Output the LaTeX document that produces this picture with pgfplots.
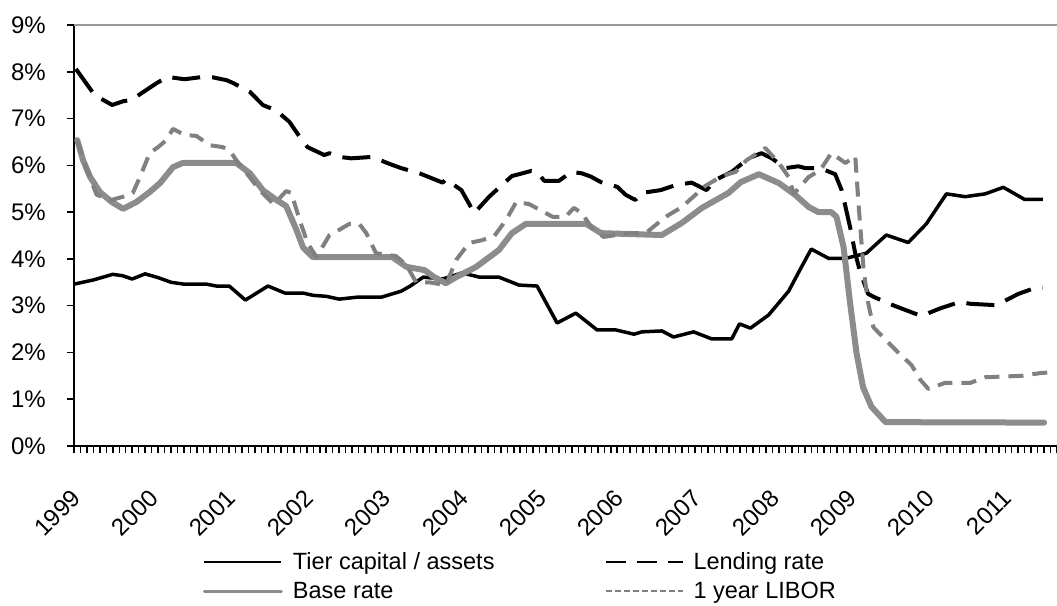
\documentclass[border=0pt]{standalone}
\usepackage{pgfplots}
\pgfplotsset{compat=1.18}
\usepackage{fontspec}
\setmainfont{Liberation Sans}
\definecolor{lgray}{RGB}{128,128,128}
\definecolor{bgray}{RGB}{140,140,140}
\begin{document}
\begin{tikzpicture}
\path[use as bounding box] (-74pt,-159pt) rectangle (983pt,446pt);
\begin{axis}[
  scale only axis, width=983pt, height=421pt,
  xmin=0, xmax=152, ymin=0, ymax=9,
  axis lines*=left,
  axis line style={line width=2.5pt, black},
  tick align=outside,
  major tick length=7pt, minor tick length=7pt,
  every tick/.style={black, line width=1.5pt},
  xtick={0,12,...,144},
  xticklabels={1999,2000,2001,2002,2003,2004,2005,2006,2007,2008,2009,2010,2011},
  minor xtick={0,...,152},
  ytick={0,...,9},
  yticklabels={0\%,1\%,2\%,3\%,4\%,5\%,6\%,7\%,8\%,9\%},
  tick label style={font=\fontsize{24}{28}\selectfont},
  xticklabel style={xshift=3pt, yshift=-40pt, rotate=45, anchor=east, inner sep=1pt},
  yticklabel style={inner sep=2pt, xshift=-19pt},
  clip=false,
  legend columns=2,
  legend cell align=left,
  legend style={draw=none, fill=none, at={(0.131,-0.253)}, anchor=north west,
    font=\fontsize{23.5}{28}\selectfont, inner sep=0pt,
    nodes={inner sep=0pt},
    /tikz/every odd column/.append style={column sep=10pt},
    /tikz/every even column/.append style={column sep=110pt},
    row sep=11pt},
]
\addplot[lgray!80, line width=2pt, forget plot] coordinates {(0,9)(152,9)};

\addplot[black, line width=3.5pt, line join=round,
  legend image code/.code={\draw[black, line width=2pt] (0pt,0pt) -- (77pt,0pt);}]
coordinates {(0,3.46)(3,3.55)(6,3.67)(7.5,3.64)(9,3.57)(11,3.68)(13,3.60)(15,3.50)(17,3.46)(20.5,3.46)(22,3.42)(24,3.42)(26.5,3.12)(30,3.42)(32.6,3.27)(35.4,3.27)(37,3.22)(39,3.2)(41,3.14)(43.7,3.18)(47.5,3.18)(50.6,3.31)(52,3.42)(54,3.61)(57,3.57)(60,3.70)(62.7,3.61)(65.7,3.61)(68.8,3.44)(71.6,3.42)(74.7,2.63)(77.6,2.84)(80.9,2.48)(83.8,2.48)(86.6,2.39)(87.8,2.44)(90.9,2.46)(92.7,2.33)(95.8,2.44)(98.6,2.29)(101.7,2.29)(102.9,2.61)(104.6,2.52)(107.4,2.80)(110.5,3.31)(112.5,3.83)(114,4.21)(116.7,4.01)(119.3,4.01)(122.5,4.12)(125.6,4.51)(129,4.35)(131.8,4.75)(134.9,5.39)(137.8,5.33)(140.9,5.39)(143.7,5.53)(147,5.27)(149.8,5.27)};
\addlegendentry{Tier capital / assets}

\addplot[black, line width=4pt, dash pattern=on 28pt off 12pt, line join=round,
  legend image code/.code={\draw[black, line width=2pt, dash pattern=on 20pt off 11pt] (0pt,0pt) -- (77pt,0pt);}]
coordinates {(0.3,8.06)(3.2,7.5)(5.9,7.29)(7.6,7.37)(9,7.4)(10.2,7.52)(12.8,7.76)(14.5,7.89)(17.1,7.84)(19.9,7.89)(21.5,7.88)(23.6,7.82)(24.6,7.76)(27.2,7.57)(29.2,7.29)(31.3,7.17)(33.3,6.93)(34.9,6.61)(36.1,6.39)(38.7,6.22)(39.5,6.26)(41,6.18)(42.9,6.15)(46.1,6.18)(48.8,6.03)(50.6,5.94)(53.4,5.83)(55.4,5.72)(57,5.63)(57.5,5.70)(59.9,5.47)(61.9,4.98)(64.2,5.33)(67.7,5.77)(70.7,5.88)(71.6,5.86)(72.7,5.67)(75,5.67)(76.9,5.86)(78.5,5.83)(79.9,5.76)(81.5,5.64)(84,5.54)(85.3,5.37)(86.8,5.26)(87.8,5.41)(90.7,5.47)(93.1,5.58)(95.5,5.63)(97.8,5.47)(99.2,5.69)(101.7,5.86)(104.3,6.15)(106.3,6.26)(107.9,6.15)(110,5.94)(112,5.98)(113.1,5.94)(115.4,5.94)(117.7,5.81)(118.7,5.47)(119.3,5.11)(120,4.68)(120.8,4.12)(121.6,3.70)(122.8,3.25)(124.1,3.16)(127,2.99)(131,2.78)(134.1,2.95)(137,3.08)(138.6,3.04)(142.6,3.01)(146,3.25)(148.6,3.38)(149.8,3.38)};
\addlegendentry{Lending rate}

\addplot[bgray, line width=6pt, line join=round, line cap=round,
  legend image code/.code={\draw[bgray, line width=3pt] (0pt,0pt) -- (77pt,0pt);}]
coordinates {(0.5,6.54)(1.4,6.11)(2.5,5.75)(4,5.43)(5.8,5.22)(7.6,5.07)(9.7,5.22)(11.7,5.43)(13.3,5.62)(15.3,5.96)(16.8,6.05)(25.1,6.05)(27.2,5.83)(29.2,5.47)(31.3,5.26)(32.8,5.13)(34.4,4.62)(35.4,4.25)(36.9,4.04)(49.2,4.04)(51.4,3.83)(54.2,3.76)(55.7,3.61)(57.5,3.48)(59.1,3.61)(62.2,3.83)(65.7,4.19)(67.7,4.55)(69.9,4.75)(79.2,4.75)(81.5,4.55)(90.9,4.51)(94,4.77)(97.1,5.09)(101.2,5.41)(103.1,5.64)(105.9,5.81)(109,5.62)(111.5,5.37)(113.6,5.11)(115.1,5.0)(117.1,5.0)(117.9,4.90)(119,4.25)(120,3.06)(121,1.99)(122,1.26)(123.3,0.84)(125.5,0.51)(150,0.5)};
\addlegendentry{Base rate}

\addplot[lgray, line width=4pt, dash pattern=on 15pt off 9pt, line join=round,
  legend image code/.code={\draw[lgray, line width=2pt, dash pattern=on 6pt off 3pt] (0pt,0pt) -- (77pt,0pt);}]
coordinates {(0.5,6.54)(2,5.9)(3.5,5.37)(5.8,5.26)(7.6,5.33)(9.1,5.41)(10.2,5.75)(11.7,6.26)(13,6.39)(14.3,6.54)(15.3,6.78)(17.1,6.65)(18.9,6.63)(21,6.43)(23,6.39)(24.1,6.31)(25.1,6.11)(26.7,5.83)(28.7,5.47)(30.7,5.19)(31.8,5.30)(32.8,5.45)(33.6,5.41)(34.9,4.83)(36.1,4.34)(37.5,4.04)(39.5,4.51)(41,4.62)(42.6,4.75)(44.1,4.75)(45.2,4.55)(46.7,4.12)(49.8,4.06)(51.4,3.87)(52.9,3.5)(54.9,3.5)(57.5,3.44)(59.1,3.98)(61.1,4.34)(63.1,4.40)(65,4.49)(66.8,4.83)(68.4,5.22)(70.4,5.17)(72.4,5.02)(74,4.9)(76,4.9)(77.3,5.09)(78.5,4.98)(80.1,4.66)(81.9,4.47)(85.8,4.55)(88.4,4.55)(89.9,4.72)(91.5,4.9)(94,5.11)(96.1,5.37)(97.6,5.56)(100.2,5.77)(102.3,5.86)(104,6.11)(106.9,6.37)(109,6.05)(110.5,5.75)(111.3,5.39)(113.6,5.75)(115.4,5.9)(117.1,6.26)(119.3,6.05)(120.8,6.2)(121.3,5.19)(122.1,3.76)(122.8,3.06)(123.6,2.54)(125.5,2.27)(127.5,1.99)(129.5,1.73)(130.9,1.41)(132.1,1.22)(134.7,1.35)(138.6,1.35)(140.9,1.47)(146.5,1.50)(149.5,1.56)(151.7,1.58)};
\addlegendentry{1 year LIBOR}
\end{axis}
\end{tikzpicture}
\end{document}
